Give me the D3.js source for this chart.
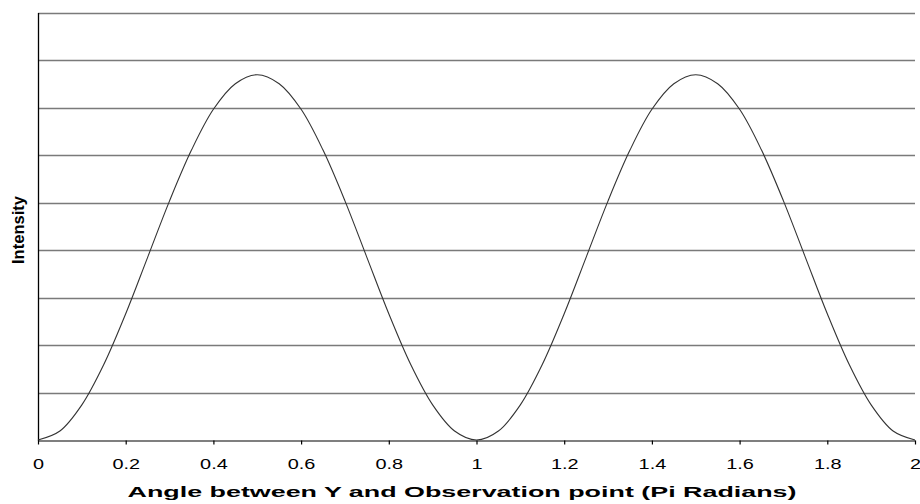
<!DOCTYPE html>
<html>
<head>
<meta charset="utf-8">
<script src="https://cdn.jsdelivr.net/npm/d3@7"></script>
<style>
  html, body { margin: 0; padding: 0; background: #ffffff; }
  svg { display: block; }
  text { font-family: "Liberation Sans", Arial, sans-serif; fill: #000; }
</style>
</head>
<body>
<svg id="chart" width="920" height="504"></svg>
<script>
// Angle in units of pi
const angles = [0, 0.05, 0.1, 0.15, 0.2, 0.25, 0.3, 0.35, 0.4, 0.45, 0.5,
                0.55, 0.6, 0.65, 0.7, 0.75, 0.8, 0.85, 0.9, 0.95, 1,
                1.05, 1.1, 1.15, 1.2, 1.25, 1.3, 1.35, 1.4, 1.45, 1.5,
                1.55, 1.6, 1.65, 1.7, 1.75, 1.8, 1.85, 1.9, 1.95, 2];
// Relative intensity
const intensity = [0, 0.019, 0.074, 0.159, 0.266, 0.385, 0.504, 0.611, 0.697, 0.751, 0.770,
                   0.751, 0.697, 0.611, 0.504, 0.385, 0.266, 0.159, 0.074, 0.019, 0,
                   0.019, 0.074, 0.159, 0.266, 0.385, 0.504, 0.611, 0.697, 0.751, 0.770,
                   0.751, 0.697, 0.611, 0.504, 0.385, 0.266, 0.159, 0.074, 0.019, 0];
const xTicks = [0, 0.2, 0.4, 0.6, 0.8, 1, 1.2, 1.4, 1.6, 1.8, 2];
const xTickLabels = ["0", "0.2", "0.4", "0.6", "0.8", "1", "1.2", "1.4", "1.6", "1.8", "2"];
const yGrid = [0.1, 0.2, 0.3, 0.4, 0.5, 0.6, 0.7, 0.8, 0.9];
const xTitle = "Angle between Y and Observation point (Pi Radians)";
const yTitle = "Intensity";

const svg = d3.select("#chart");
const plotLeft = 38, plotRight = 915, plotTop = 13, plotBottom = 440;

const x = d3.scaleLinear().domain([0, 2]).range([plotLeft, plotRight]);
const y = d3.scaleLinear().domain([0, 0.9]).range([plotBottom, plotTop]);

// horizontal gridlines
svg.append("g")
  .selectAll("line")
  .data(yGrid)
  .join("line")
  .attr("x1", plotLeft).attr("x2", plotRight)
  .attr("y1", d => Math.round(y(d)) + 0.5).attr("y2", d => Math.round(y(d)) + 0.5)
  .attr("stroke", "#7a7a7a")
  .attr("stroke-width", 1.3);

// x axis
const xAxis = d3.axisBottom(x)
  .tickValues(xTicks)
  .tickFormat((d, i) => xTickLabels[i])
  .tickSize(4)
  .tickSizeOuter(0);

const gx = svg.append("g")
  .attr("transform", `translate(0,${plotBottom + 0.5})`)
  .call(xAxis);
gx.select(".domain").attr("stroke", "#000").attr("stroke-width", 1.2);
gx.selectAll(".tick line").attr("stroke", "#000").attr("stroke-width", 1.2);
// labels are drawn slightly wide, stretched about their tick
gx.selectAll(".tick text")
  .attr("font-family", "'Liberation Sans', Arial, sans-serif")
  .attr("font-size", 14)
  .attr("dy", 0)
  .attr("y", 29)
  .attr("x", 0)
  .attr("transform", "scale(1.42,1)");

// left axis line
svg.append("line")
  .attr("x1", plotLeft + 0.5).attr("x2", plotLeft + 0.5)
  .attr("y1", plotTop).attr("y2", plotBottom + 1)
  .attr("stroke", "#000").attr("stroke-width", 1.3);

// intensity curve
const pts = angles.map((a, i) => [a, intensity[i]]);
const line = d3.line()
  .x(d => x(d[0]))
  .y(d => y(d[1]))
  .curve(d3.curveCatmullRom.alpha(0.5));

svg.append("path")
  .datum(pts)
  .attr("d", line)
  .attr("fill", "none")
  .attr("stroke", "#333")
  .attr("stroke-width", 1.1);

// axis titles
svg.append("text")
  .attr("x", 462)
  .attr("y", 497)
  .attr("text-anchor", "middle")
  .attr("font-size", 15)
  .attr("font-weight", "bold")
  .attr("textLength", 669)
  .attr("lengthAdjust", "spacingAndGlyphs")
  .text(xTitle);

svg.append("text")
  .attr("transform", "translate(24,230) rotate(-90)")
  .attr("text-anchor", "middle")
  .attr("font-size", 17)
  .attr("font-weight", "bold")
  .attr("textLength", 68)
  .attr("lengthAdjust", "spacingAndGlyphs")
  .text(yTitle);
</script>
</body>
</html>
